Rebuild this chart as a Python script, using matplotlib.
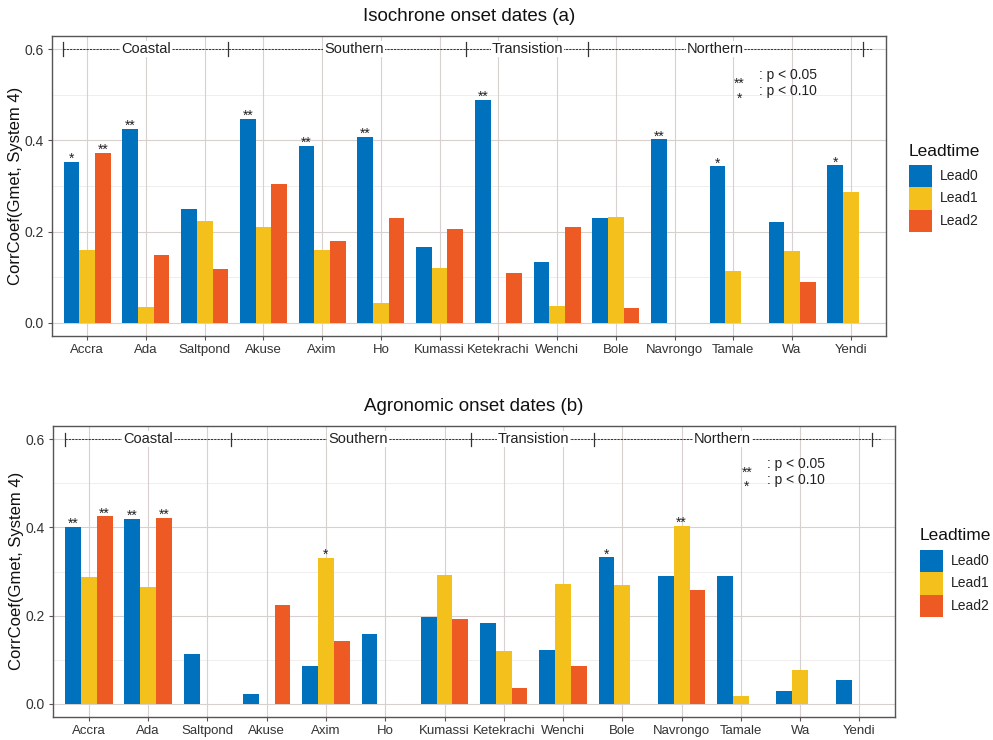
import matplotlib
matplotlib.use("Agg")
import matplotlib.pyplot as plt
from matplotlib.patches import Rectangle
import numpy as np

stations = ["Accra", "Ada", "Saltpond", "Akuse", "Axim", "Ho", "Kumassi",
            "Ketekrachi", "Wenchi", "Bole", "Navrongo", "Tamale", "Wa", "Yendi"]
leads = ["Lead0", "Lead1", "Lead2"]

# Isochrone onset dates (a)
iso_lead0 = [0.352, 0.425, 0.249, 0.448, 0.388, 0.407, 0.167, 0.488, 0.133, 0.230, 0.402, 0.343, 0.222, 0.345]
iso_lead1 = [0.160, 0.034, 0.224, 0.211, 0.160, 0.044, 0.121, 0.0, 0.037, 0.231, 0.0, 0.113, 0.157, 0.287]
iso_lead2 = [0.373, 0.149, 0.117, 0.305, 0.179, 0.230, 0.205, 0.110, 0.211, 0.033, 0.0, 0.0, 0.089, 0.0]
iso_sig0 = ["*", "**", "", "**", "**", "**", "", "**", "", "", "**", "*", "", "*"]
iso_sig1 = [""] * 14
iso_sig2 = ["**", "", "", "", "", "", "", "", "", "", "", "", "", ""]

# Agronomic onset dates (b)
agr_lead0 = [0.402, 0.419, 0.113, 0.023, 0.085, 0.159, 0.196, 0.183, 0.122, 0.332, 0.291, 0.291, 0.029, 0.055]
agr_lead1 = [0.287, 0.265, 0.0, 0.0, 0.331, 0.0, 0.292, 0.120, 0.271, 0.269, 0.403, 0.017, 0.076, 0.0]
agr_lead2 = [0.425, 0.422, 0.0, 0.224, 0.143, 0.0, 0.192, 0.036, 0.087, 0.0, 0.258, 0.0, 0.0, 0.0]
agr_sig0 = ["**", "**", "", "", "", "", "", "", "", "*", "", "", "", ""]
agr_sig1 = ["", "", "", "", "*", "", "", "", "", "", "**", "", "", ""]
agr_sig2 = ["**", "**", "", "", "", "", "", "", "", "", "", "", "", ""]

regions = ["Coastal", "Southern", "Transistion", "Northern"]
region_bounds = [-0.41, 2.39, 6.45, 8.52, 13.21]
region_label_x = [1.0, 4.54, 7.5, 10.69]

colors = ["#0072BD", "#F4C01C", "#EE5A24"]

W, H = 993, 740
fig = plt.figure(figsize=(W / 100, H / 100), dpi=100)
plt.rcParams['font.family'] = ['Liberation Sans', 'DejaVu Sans']

def fr(x0, y0, x1, y1):
    return [x0 / W, 1 - y1 / H, (x1 - x0) / W, (y1 - y0) / H]

ax1 = fig.add_axes(fr(52, 36, 886, 336))
ax2 = fig.add_axes(fr(53.3, 426, 895, 716.7))

def draw(ax, vals, sigs, title, ylim):
    x = np.arange(len(stations))
    bw = 0.8 / 3
    ax.set_xlim(-0.6, len(stations) - 0.4)
    ax.set_ylim(*ylim)
    ax.set_axisbelow(True)
    for t in [0.1, 0.3, 0.5]:
        ax.axhline(t, color="#eeeaea", lw=0.6, zorder=0)
    for t in [0.0, 0.2, 0.4, 0.6]:
        ax.axhline(t, color="#d8cfcf", lw=0.8, zorder=0)
    for xi in x:
        ax.axvline(xi, color="#d8cfcf", lw=0.8, zorder=0)
    for i, (v, s) in enumerate(zip(vals, sigs)):
        pos = x + (i - 1) * bw
        ax.bar(pos, v, width=bw, color=colors[i], zorder=2, linewidth=0)
        for p, vv, ss in zip(pos, v, s):
            if ss:
                ax.text(p, vv - 0.002, ss, ha="center", va="baseline", fontsize=10, color="#222222")
    # region annotation
    ax.plot([region_bounds[0], region_bounds[-1] + 0.16], [0.6, 0.6], color="#333333",
            lw=0.7, linestyle=(0, (2.2, 1.2)), zorder=3)
    for b in region_bounds:
        ax.plot([b, b], [0.585, 0.615], color="#333333", lw=0.9, zorder=4)
    for name, lx in zip(regions, region_label_x):
        ax.text(lx, 0.6, name, ha="center", va="center", fontsize=10.5, color="#222222",
                zorder=5, bbox=dict(facecolor="white", edgecolor="none", pad=0.6))
    # p-value note
    ax.text(11.1, 0.525, "**", ha="center", va="center", fontsize=10, color="#222222")
    ax.text(11.1, 0.492, "*", ha="center", va="center", fontsize=10, color="#222222")
    ax.text(11.44, 0.543, ": p < 0.05", ha="left", va="center", fontsize=10, color="#222222")
    ax.text(11.44, 0.508, ": p < 0.10", ha="left", va="center", fontsize=10, color="#222222")

    ax.set_xticks(x)
    ax.set_xticklabels(stations, fontsize=9.5, color="#333333")
    ax.set_yticks([0.0, 0.2, 0.4, 0.6])
    ax.set_yticklabels(["0.0", "0.2", "0.4", "0.6"], fontsize=10, color="#333333")
    ax.tick_params(length=3, width=0.8, color="#555555", pad=3)
    ax.set_ylabel("CorrCoef(Gmet, System 4)", fontsize=12, color="#111111", labelpad=1)
    for sp in ax.spines.values():
        sp.set_color("#555555")
        sp.set_linewidth(1.0)
    ax.set_title(title, fontsize=13.5, family=["Liberation Sans Narrow", "Liberation Sans", "DejaVu Sans"],
                 pad=11, color="#111111")

draw(ax1, [iso_lead0, iso_lead1, iso_lead2], [iso_sig0, iso_sig1, iso_sig2],
     "Isochrone onset dates (a)", (-0.029, 0.629))
draw(ax2, [agr_lead0, agr_lead1, agr_lead2], [agr_sig0, agr_sig1, agr_sig2],
     "Agronomic onset dates (b)", (-0.029, 0.630))

# legends (pixel layout: x of keys, y of title centre, y of first key top)
def legend(x0, ytitle, ykey):
    fig.text(x0 / W, 1 - ytitle / H, "Leadtime", ha="left", va="center", fontsize=12.5, color="#111111")
    kh = 22.5
    for i, (c, l) in enumerate(zip(colors, leads)):
        top = ykey + i * kh
        fig.add_artist(Rectangle((x0 / W, 1 - (top + kh) / H), 23 / W, kh / H,
                                 transform=fig.transFigure, facecolor=c, edgecolor="none"))
        fig.text((x0 + 31) / W, 1 - (top + kh / 2) / H, l, ha="left", va="center",
                 fontsize=10, color="#222222")

legend(909, 151, 164.5)
legend(920, 535, 549.5)

fig.savefig("out.png", dpi=100, facecolor="white")
